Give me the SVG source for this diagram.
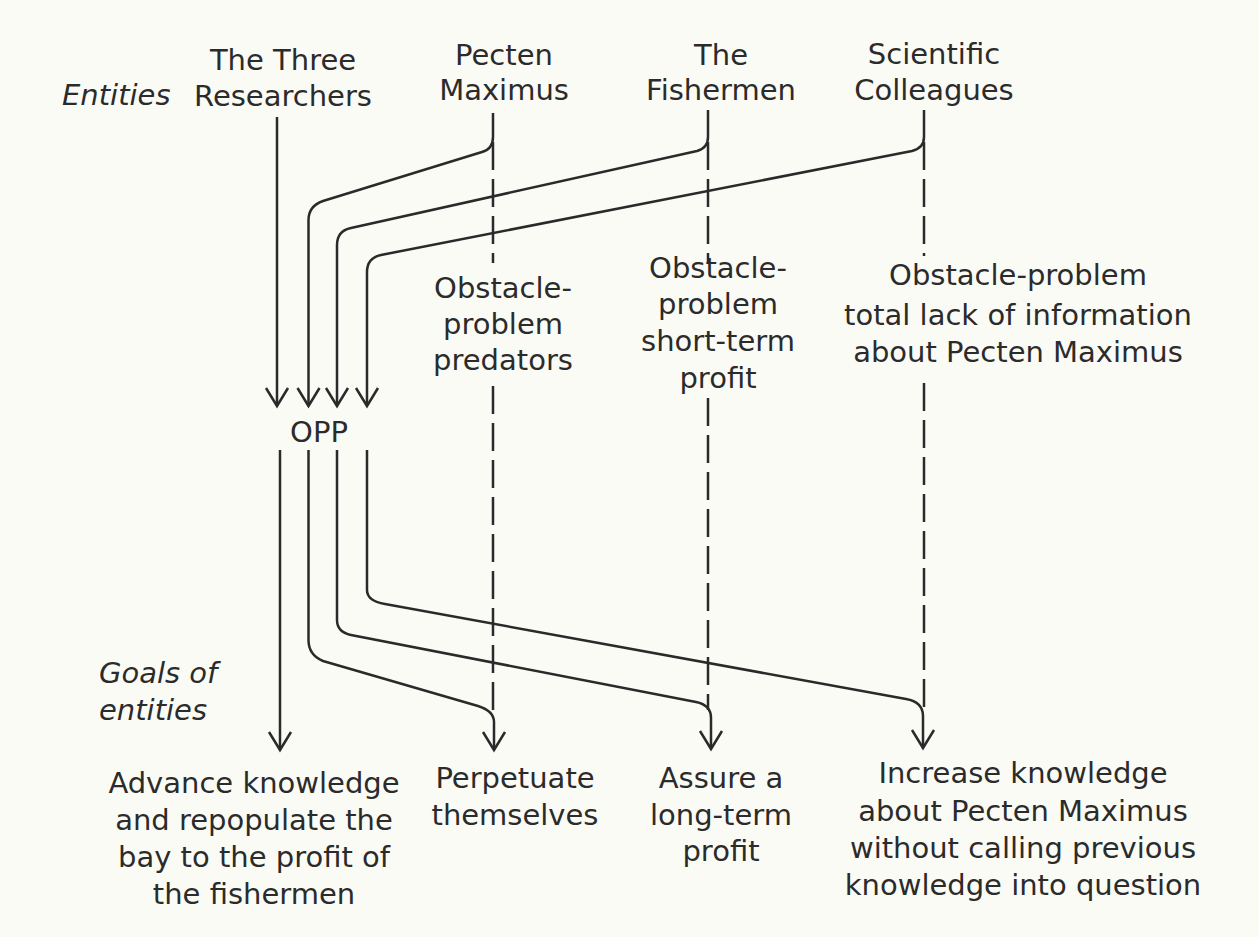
<svg xmlns="http://www.w3.org/2000/svg" width="1259" height="937" viewBox="0 0 1259 937">
<defs>
<marker id="arr" markerUnits="userSpaceOnUse" markerWidth="30" markerHeight="30" viewBox="-15 -25 30 30" refX="0" refY="0" orient="auto">
<path d="M-18,-11 L0,0 L-18,11" fill="none" stroke="#2a2a2a" stroke-width="2.5" transform="rotate(0)"/>
</marker>
</defs>
<style>
text{font-family:"DejaVu Sans","Liberation Sans",sans-serif;font-size:29px;fill:#2b2b2b;text-anchor:middle}
.it{font-style:italic;text-anchor:start}
.ln{fill:none;stroke:#2a2a2a;stroke-width:2.5;stroke-linejoin:round}
.ds{fill:none;stroke:#2a2a2a;stroke-width:2.5;stroke-dasharray:28 9}
.ah{fill:none;stroke:#2a2a2a;stroke-width:2.5;stroke-linejoin:miter}
</style>
<rect width="1259" height="937" fill="#fbfbf6"/>
<g id="labels">
<text class="it" x="62" y="105">Entities</text>
<text class="it" x="99" y="683">Goals of</text>
<text class="it" x="99" y="720">entities</text>
</g>
<g id="researchers"><text x="283" y="70">The Three</text><text x="283" y="106">Researchers</text></g>
<g id="pecten"><text x="504" y="65">Pecten</text><text x="504" y="100">Maximus</text></g>
<g id="fishermen"><text x="721" y="65">The</text><text x="721" y="100">Fishermen</text></g>
<g id="colleagues"><text x="934" y="64">Scientific</text><text x="934" y="100">Colleagues</text></g>
<g id="obstacle-predators"><text x="503" y="298">Obstacle-</text><text x="503" y="334">problem</text><text x="503" y="370">predators</text></g>
<g id="obstacle-profit"><text x="718" y="278">Obstacle-</text><text x="718" y="314">problem</text><text x="718" y="351">short-term</text><text x="718" y="388">profit</text></g>
<g id="obstacle-info"><text x="1018" y="285">Obstacle-problem</text><text x="1018" y="325">total lack of information</text><text x="1018" y="362">about Pecten Maximus</text></g>
<g id="opp"><text x="319" y="442">OPP</text></g>
<g id="goal-researchers"><text x="254" y="793">Advance knowledge</text><text x="254" y="830">and repopulate the</text><text x="254" y="867">bay to the profit of</text><text x="254" y="904">the fishermen</text></g>
<g id="goal-pecten"><text x="515" y="788">Perpetuate</text><text x="515" y="825">themselves</text></g>
<g id="goal-fishermen"><text x="721" y="788">Assure a</text><text x="721" y="825">long-term</text><text x="721" y="861">profit</text></g>
<g id="goal-colleagues"><text x="1023" y="783">Increase knowledge</text><text x="1023" y="821">about Pecten Maximus</text><text x="1023" y="858">without calling previous</text><text x="1023" y="895">knowledge into question</text></g>
<g id="connectors">
<!-- dashed continuations -->
<path class="ds" d="M493,142 V263"/>
<path class="ds" d="M493,386 V712"/>
<path class="ds" d="M708,142 V262"/>
<path class="ds" d="M708,398 V710"/>
<path class="ds" d="M924,142 V256"/>
<path class="ds" d="M924,383 V710"/>
<!-- top inbound -->
<path class="ln" d="M277,117 V406"/>
<path class="ln" d="M493,113 V137 Q493,149 482,152 L323,201 Q308.5,206 308.5,220 V406"/>
<path class="ln" d="M708,110 V137 Q708,148 697,151 L351,228 Q337,231 337,245 V406"/>
<path class="ln" d="M924,110 V137 Q924,148 912,151 L381,255 Q367,258 367,272 V406"/>
<!-- arrowheads top -->
<path class="ah" d="M266,388 L277,406 L288,388 M297.5,388 L308.5,406 L319.5,388 M326,388 L337,406 L348,388 M356,388 L367,406 L378,388"/>
<!-- bottom outbound -->
<path class="ln" d="M280,450 V750"/>
<path class="ln" d="M308.5,450 V640 Q308.5,655 323,661 L478,706 Q494,711 494,722 V750"/>
<path class="ln" d="M337,450 V620 Q337,632 351,635 L696,702 Q711,705 711,718 V749"/>
<path class="ln" d="M367,450 V590 Q367,601 385,604 L906,699 Q923,702 923,716 V748"/>
<path class="ah" d="M269,732 L280,750 L291,732 M483,732 L494,750 L505,732 M700,731 L711,749 L722,731 M912,730 L923,748 L934,730"/>
</g>
</svg>
